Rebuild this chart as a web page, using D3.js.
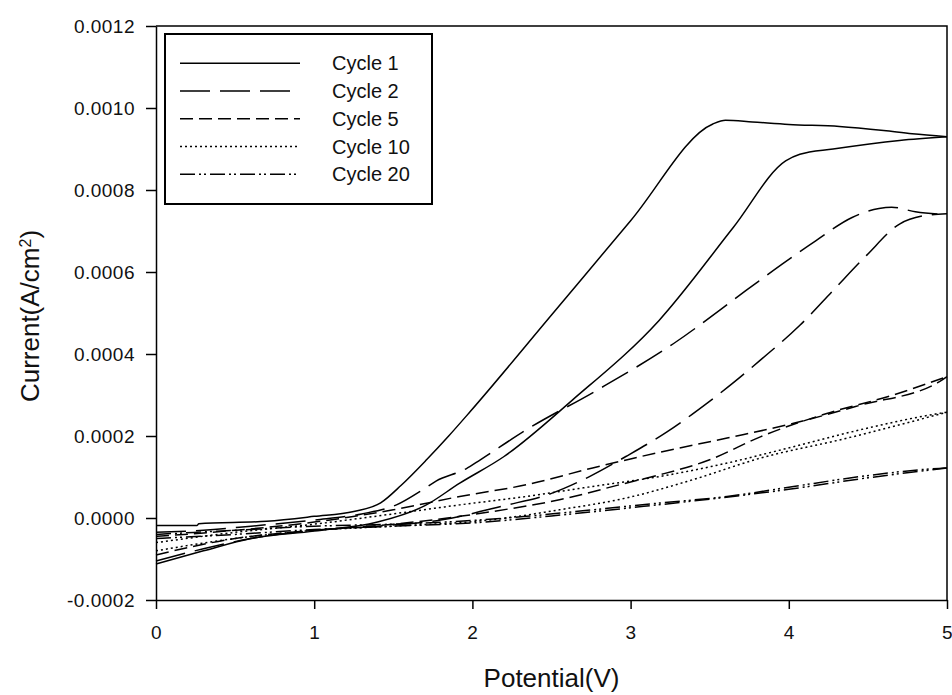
<!DOCTYPE html>
<html>
<head>
<meta charset="utf-8">
<script src="https://cdn.jsdelivr.net/npm/d3@7"></script>
<style>
  body { margin: 0; background: #fff; }
  svg { display: block; font-family: Arial, "Liberation Sans", sans-serif; }
</style>
</head>
<body>
<svg id="chart" width="952" height="695"></svg>
<script>
// potential (V), current (A/cm2); each cycle is a forward and a reverse branch
var cycle1Fwd = [[0, -0.000018], [0.26, -0.000018], [0.27, -0.000014], [0.7, -0.000008], [1.0, 0.000004],
  [1.25, 0.000016], [1.42, 0.000037], [1.55, 0.00008], [1.71, 0.000142], [1.85, 0.0002], [1.985, 0.000259],
  [2.5, 0.000495], [3.0, 0.000725], [3.52, 0.000961], [3.6, 0.00097], [3.77, 0.000966], [4.0, 0.00096],
  [4.32, 0.000955], [4.6, 0.000945], [4.78, 0.000937], [5.0, 0.00093]];
var cycle1Rev = [[0, -0.000112], [0.3, -0.00008], [0.6, -0.00005], [1.0, -0.000032], [1.4, -0.00001],
  [1.7, 0.00003], [1.92, 0.000085], [2.2, 0.00015], [2.63, 0.000287], [3.18, 0.000482], [3.65, 0.000709],
  [3.98, 0.000871], [4.07, 0.000887], [4.28, 0.0009], [4.7, 0.000921], [5.0, 0.00093]];
var cycle2Fwd = [[0, -0.000035], [0.3, -0.00003], [0.6, -0.00002], [1.0, -0.000005], [1.3, 0.00001],
  [1.52, 0.000032], [1.69, 0.00007], [1.77, 0.00009], [1.96, 0.00012], [2.05, 0.000142], [2.34, 0.000215],
  [2.78, 0.00031], [3.27, 0.000425], [3.73, 0.000555], [3.96, 0.00062], [4.17, 0.000676], [4.4, 0.000733],
  [4.57, 0.000755], [4.65, 0.000758], [4.8, 0.000747], [5.0, 0.00074]];
var cycle2Rev = [[0, -0.000105], [0.3, -0.000075], [0.6, -0.00005], [1.0, -0.00003], [1.4, -0.00002],
  [1.8, -0.000005], [2.2, 0.00003], [2.5, 0.00006], [2.74, 0.000101], [2.97, 0.00015], [3.23, 0.00021],
  [3.48, 0.000279], [3.65, 0.00033], [3.82, 0.000385], [4.07, 0.00047], [4.28, 0.000555], [4.49, 0.00064],
  [4.7, 0.000717], [4.85, 0.000737], [5.0, 0.000742]];
var cycle5Fwd = [[0, -0.000045], [0.5, -0.00003], [1.0, -0.00001], [1.5, 0.00002], [1.92, 0.0000525],
  [2.34, 0.000081], [2.76, 0.000122], [3.18, 0.00016], [3.61, 0.000195], [4.03, 0.000231], [4.45, 0.000275],
  [4.95, 0.000332], [5.0, 0.000345]];
var cycle5Rev = [[0, -0.00009], [0.5, -0.00005], [1.0, -0.00003], [1.5, -0.000015], [1.92, 0.000004],
  [2.13, 0.000016], [2.55, 0.0000445], [2.97, 0.000085], [3.18, 0.000105], [3.5, 0.000142], [3.82, 0.000198],
  [4.24, 0.000255], [4.66, 0.0003], [5.0, 0.000345]];
var cycle10Fwd = [[0, -0.00006], [0.5, -0.000035], [1.0, -0.000015], [1.5, 0.00001], [1.92, 0.000032],
  [2.34, 0.0000525], [2.76, 0.000077], [3.18, 0.000101], [3.61, 0.000134], [4.03, 0.000174], [4.45, 0.000215],
  [4.95, 0.000255], [5.0, 0.000258]];
var cycle10Rev = [[0, -0.00008], [0.5, -0.00005], [1.0, -0.00003], [1.5, -0.00002], [2.13, -0.000004],
  [2.55, 0.00002], [2.97, 0.0000486], [3.39, 0.000093], [3.82, 0.000146], [4.36, 0.000194], [5.0, 0.000258]];
var cycle20Fwd = [[0, -0.00004], [0.5, -0.00003], [1.0, -0.00002], [1.5, -0.000015], [1.92, -0.000008],
  [2.34, 0.000004], [2.76, 0.00002], [3.18, 0.0000364], [3.61, 0.0000525], [4.03, 0.0000768], [4.45, 0.000101],
  [4.95, 0.000121], [5.0, 0.000122]];
var cycle20Rev = [[0, -0.00005], [0.5, -0.00004], [1.0, -0.000028], [1.5, -0.00002], [2.0, -0.000012],
  [2.5, 0.000005], [3.0, 0.000025], [3.5, 0.000046], [4.0, 0.00007], [4.5, 0.000098], [5.0, 0.000122]];

var seriesNames = ['Cycle 1', 'Cycle 2', 'Cycle 5', 'Cycle 10', 'Cycle 20'];
var xTicks = [0, 1, 2, 3, 4, 5];
var yTicks = [-0.0002, 0, 0.0002, 0.0004, 0.0006, 0.0008, 0.0010, 0.0012];

var series = [
  {name: seriesNames[0], branches: [cycle1Fwd, cycle1Rev], dash: null},
  {name: seriesNames[1], branches: [cycle2Fwd, cycle2Rev], dash: '30,10'},
  {name: seriesNames[2], branches: [cycle5Fwd, cycle5Rev], dash: '13,6'},
  {name: seriesNames[3], branches: [cycle10Fwd, cycle10Rev], dash: '2,3'},
  {name: seriesNames[4], branches: [cycle20Fwd, cycle20Rev], dash: '15,4,2,3,2,4'}
];

var svg = d3.select('#chart');
var plotLeft = 156, plotRight = 947, plotTop = 26, plotBottom = 600;

var x = d3.scaleLinear().domain([0, 5]).range([plotLeft, plotRight]);
var y = d3.scaleLinear().domain([-0.0002, 0.0012]).range([plotBottom, plotTop]);

var line = d3.line()
  .x(function(d) { return x(d[0]); })
  .y(function(d) { return y(d[1]); })
  .curve(d3.curveMonotoneX);

// curves
var g = svg.append('g').attr('class', 'curves');
series.forEach(function(s) {
  s.branches.forEach(function(b) {
    g.append('path')
      .attr('d', line(b))
      .attr('fill', 'none')
      .attr('stroke', '#000')
      .attr('stroke-width', 1.5)
      .attr('stroke-dasharray', s.dash);
  });
});

// frame (top and right, no ticks)
svg.append('path')
  .attr('d', 'M' + plotLeft + ',' + plotTop + 'H' + plotRight + 'V' + plotBottom)
  .attr('fill', 'none')
  .attr('stroke', '#000')
  .attr('stroke-width', 1.5);

// axes; sigmaplot uses a plain hyphen for negatives
var yFmt = d3.format('.4f');
var xAxis = svg.append('g')
  .attr('transform', 'translate(0,' + plotBottom + ')')
  .call(d3.axisBottom(x).tickValues(xTicks).tickSize(9).tickSizeOuter(0).tickFormat(d3.format('d')));
var yAxis = svg.append('g')
  .attr('transform', 'translate(' + plotLeft + ',0)')
  .call(d3.axisLeft(y).tickValues(yTicks).tickSize(10).tickSizeOuter(0)
    .tickFormat(function(d) { return yFmt(d).replace('\u2212', '-'); }));

[xAxis, yAxis].forEach(function(a) {
  a.select('.domain').attr('stroke', '#000').attr('stroke-width', 1.5);
  a.selectAll('.tick line').attr('stroke', '#000').attr('stroke-width', 1.5);
  a.selectAll('.tick text').attr('fill', '#111').style('font-size', '19px')
    .style('letter-spacing', '0.5px')
    .style('font-family', 'Arial, "Liberation Sans", sans-serif');
});
xAxis.selectAll('.tick text').attr('dy', null).attr('y', 39);
yAxis.selectAll('.tick text').attr('x', -21);

// axis titles
svg.append('text')
  .attr('x', (plotLeft + plotRight) / 2)
  .attr('y', 687)
  .attr('text-anchor', 'middle')
  .attr('fill', '#111')
  .style('font-size', '26px')
  .text('Potential(V)');

var yTitle = svg.append('text')
  .attr('transform', 'translate(39,316) rotate(-90)')
  .attr('text-anchor', 'middle')
  .attr('fill', '#111')
  .style('font-size', '26px');
yTitle.append('tspan').text('Current(A/cm');
yTitle.append('tspan').attr('baseline-shift', 'super').style('font-size', '16px').text('2');
yTitle.append('tspan').text(')');

// legend
var legend = svg.append('g').attr('class', 'legend');
legend.append('rect')
  .attr('x', 165).attr('y', 34)
  .attr('width', 267).attr('height', 170)
  .attr('fill', '#fff')
  .attr('stroke', '#000')
  .attr('stroke-width', 2);

var rowY = d3.scalePoint().domain(seriesNames).range([63.3, 174.3]);
series.forEach(function(s) {
  var ry = rowY(s.name);
  legend.append('line')
    .attr('x1', 180).attr('x2', 300)
    .attr('y1', ry).attr('y2', ry)
    .attr('stroke', '#000')
    .attr('stroke-width', 1.5)
    .attr('stroke-dasharray', s.dash);
  legend.append('text')
    .attr('x', 332).attr('y', ry + 7)
    .attr('fill', '#111')
    .style('font-size', '20px')
    .text(s.name);
});
</script>
</body>
</html>
